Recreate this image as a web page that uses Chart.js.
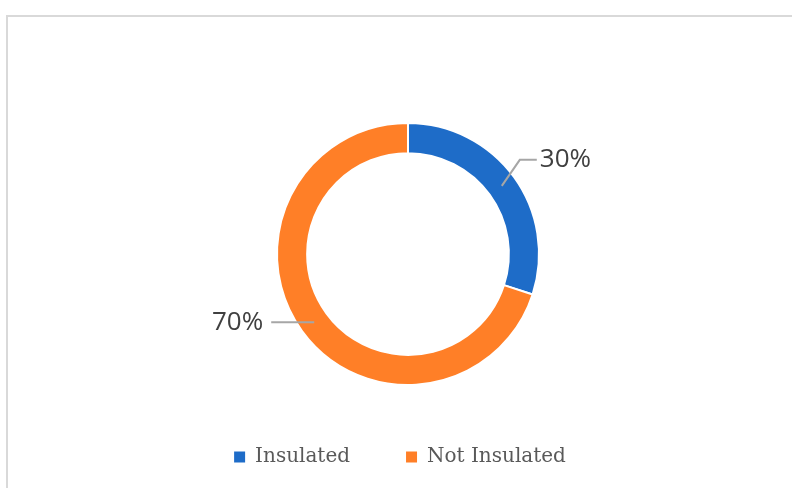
<!DOCTYPE html>
<html>
<head>
<meta charset="utf-8">
<script src="https://cdn.jsdelivr.net/npm/chart.js@4/dist/chart.umd.min.js"></script>
<style>
  html, body { margin: 0; padding: 0; background: #fff; overflow: hidden; }
  #frame {
    position: absolute; left: 6px; top: 15px; width: 800px; height: 500px;
    border: 2px solid #d9d9d9; box-sizing: border-box;
  }
  #wrap { position: absolute; left: 0; top: 0; width: 792px; height: 488px; }
</style>
</head>
<body>
<div id="frame"></div>
<div id="wrap"><canvas id="myChart"></canvas></div>
<script>
const labels = ['Insulated', 'Not Insulated'];
const values = [30, 70];
const colors = ['#1e6cc8', '#ff7f27'];

// leader line shapes per slice: [elbow dx, elbow dy, horizontal run]
const leaders = [[18, -26, 17], [0, 0, -43]];

const pctLabels = {
  id: 'pctLabels',
  afterLayout(chart) {
    // nudge legend a bit left so it sits under the ring like the original
    chart.legend.left -= 8;
    chart.legend.right -= 8;
  },
  afterDatasetsDraw(chart) {
    const ctx = chart.ctx;
    const meta = chart.getDatasetMeta(0);
    const total = values.reduce((a, b) => a + b, 0);
    meta.data.forEach((arc, i) => {
      const p = arc.getProps(['x', 'y', 'startAngle', 'endAngle', 'innerRadius', 'outerRadius'], true);
      const mid = (p.startAngle + p.endAngle) / 2;
      const r = (p.innerRadius + p.outerRadius) / 2;
      const x0 = p.x + Math.cos(mid) * r;
      const y0 = p.y + Math.sin(mid) * r;
      const [ex, ey, run] = leaders[i];
      const x1 = x0 + ex, y1 = y0 + ey;
      const x2 = x1 + run;
      ctx.save();
      ctx.strokeStyle = '#a6a6a6';
      ctx.lineWidth = 2;
      ctx.beginPath();
      ctx.moveTo(x0, y0);
      ctx.lineTo(x1, y1);
      ctx.lineTo(x2, y1);
      ctx.stroke();
      ctx.fillStyle = '#404040';
      ctx.font = '26px "Open Sans"';
      ctx.textBaseline = 'middle';
      const txt = Math.round(values[i] / total * 100) + '%';
      if (run >= 0) {
        ctx.textAlign = 'left';
        ctx.fillText(txt, x2 + 3, y1);
      } else {
        ctx.textAlign = 'right';
        ctx.fillText(txt, x2 - 8, y1);
      }
      ctx.restore();
    });
  }
};

new Chart(document.getElementById('myChart'), {
  type: 'doughnut',
  data: {
    labels: labels,
    datasets: [{
      data: values,
      backgroundColor: colors,
      borderColor: '#ffffff',
      borderWidth: 2,
      hoverOffset: 0
    }]
  },
  options: {
    responsive: true,
    maintainAspectRatio: false,
    animation: false,
    cutout: '77%',
    radius: 131,
    layout: { padding: { top: 117, left: 24, right: 0, bottom: 11 } },
    plugins: {
      tooltip: { enabled: false },
      legend: {
        position: 'bottom',
        labels: {
          boxWidth: 11,
          boxHeight: 11,
          padding: 56,
          color: '#595959',
          font: { family: '"DejaVu Serif"', size: 20 },
          generateLabels(chart) {
            const items = Chart.overrides.doughnut.plugins.legend.labels.generateLabels(chart);
            items.forEach(it => { it.lineWidth = 0; it.strokeStyle = it.fillStyle; });
            return items;
          }
        }
      }
    }
  },
  plugins: [pctLabels]
});
</script>
</body>
</html>
